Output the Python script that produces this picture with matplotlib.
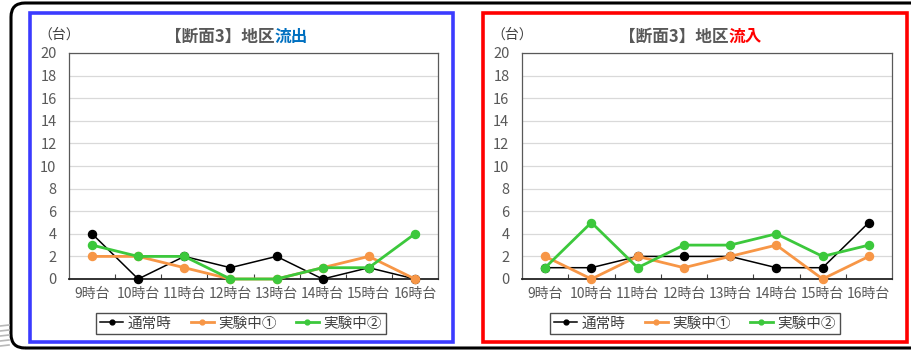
import matplotlib
matplotlib.use("Agg")
import matplotlib.pyplot as plt
from matplotlib.patches import FancyBboxPatch, Rectangle
from matplotlib.transforms import IdentityTransform
from matplotlib.ticker import FixedLocator
import numpy as np

plt.rcParams['font.family'] = ['Noto Sans CJK JP', 'DejaVu Sans']

# ── data ──
hours = ["9時台", "10時台", "11時台", "12時台", "13時台", "14時台", "15時台", "16時台"]
series_names = ["通常時", "実験中①", "実験中②"]

out_normal = [4, 0, 2, 1, 2, 0, 1, 0]
out_exp1 = [2, 2, 1, 0, 0, 1, 2, 0]
out_exp2 = [3, 2, 2, 0, 0, 1, 1, 4]

in_normal = [1, 1, 2, 2, 2, 1, 1, 5]
in_exp1 = [2, 0, 2, 1, 2, 3, 0, 2]
in_exp2 = [1, 5, 1, 3, 3, 4, 2, 3]

title_base = "【断面3】地区"
panel_titles = ["流出", "流入"]
panel_colors = ["#0070C0", "#FF0000"]
frame_colors = ["#3B3BFF", "#FF0000"]

line_colors = ["#000000", "#F79646", "#3CC83C"]
line_widths = [1.1, 2.0, 2.0]

W, H = 911, 350
fig = plt.figure(figsize=(W / 100, H / 100), dpi=100)
fig.patch.set_facecolor("white")
px = IdentityTransform()

# outer rounded black frame (runs off the right edge)
fig.patches.append(FancyBboxPatch((11, 2), 960, 345, boxstyle="round,pad=0,rounding_size=14",
                                  transform=px, fill=False, ec="black", lw=2.2))
# faint grey stripes bottom-left
for yy in [4, 9, 14, 19, 24]:
    fig.lines.append(plt.Line2D([0, 9], [yy, yy + 1], transform=px, color="#B8B8B8", lw=1.2))

# coloured panel frames: (x0, y_top, x1, y_bottom) in pixels from top-left
panels = [(30, 13, 453, 342), (483, 13, 907, 342)]
for (x0, yt, x1, yb), c in zip(panels, frame_colors):
    fig.patches.append(Rectangle((x0, H - yb), x1 - x0, yb - yt, transform=px,
                                 fill=False, ec=c, lw=2.6))

axes_px = [(69, 53, 438, 279), (522, 53, 892, 279)]
data = [(out_normal, out_exp1, out_exp2), (in_normal, in_exp1, in_exp2)]
legend_cx = [241, 695]

tick_color = "#595959"
x = np.arange(len(hours))

for i, ((l, t, r, b), vals) in enumerate(zip(axes_px, data)):
    ax = fig.add_axes([l / W, 1 - b / H, (r - l) / W, (b - t) / H])
    for v, c, lw, name in zip(vals, line_colors, line_widths, series_names):
        ax.plot(x, v, color=c, lw=lw, marker="o", markersize=5.8, label=name,
                zorder=3, clip_on=False)
    ax.set_xlim(-0.5, len(hours) - 0.5)
    ax.set_ylim(0, 20)
    ax.set_yticks(range(0, 21, 2))
    ax.set_xticks(x)
    ax.set_xticklabels(hours)
    ax.xaxis.set_minor_locator(FixedLocator(np.arange(0.5, len(hours) - 1, 1)))
    ax.tick_params(axis="x", which="major", length=0, pad=6, labelsize=10, labelcolor=tick_color)
    ax.tick_params(axis="x", which="minor", direction="in", length=3.5, width=0.8, color="#404040")
    ax.tick_params(axis="y", length=0, pad=9, labelsize=10.5, labelcolor=tick_color)
    ax.grid(axis="y", color="#D9D9D9", lw=0.9)
    ax.set_axisbelow(True)
    for side, sp in ax.spines.items():
        sp.set_color("#595959")
        sp.set_linewidth(0.9)
    ax.spines["bottom"].set_color("#222222")
    ax.spines["bottom"].set_linewidth(1.3)

    # unit label
    ax.text(l - 10, H - 35, "（台）", transform=px, ha="center", va="center",
            fontsize=10, color="#404040")
    # two-colour title
    ax.text(0.557, 1.07, title_base, transform=ax.transAxes, ha="right", va="center",
            fontsize=12, fontweight="bold", color="#595959")
    ax.text(0.557, 1.07, panel_titles[i], transform=ax.transAxes, ha="left", va="center",
            fontsize=12, fontweight="bold", color=panel_colors[i])

    leg = ax.legend(loc="center", bbox_to_anchor=(legend_cx[i] / W, 1 - 323.5 / H),
                    bbox_transform=fig.transFigure, ncol=3, fontsize=10.5,
                    handlelength=1.6, columnspacing=1.3, handletextpad=0.3,
                    borderpad=0.25, fancybox=False, markerscale=0.6, frameon=True)
    leg.get_frame().set_edgecolor("#222222")
    leg.get_frame().set_linewidth(1.0)
    for txt in leg.get_texts():
        txt.set_color("#404040")

fig.savefig("out.png", dpi=100)
